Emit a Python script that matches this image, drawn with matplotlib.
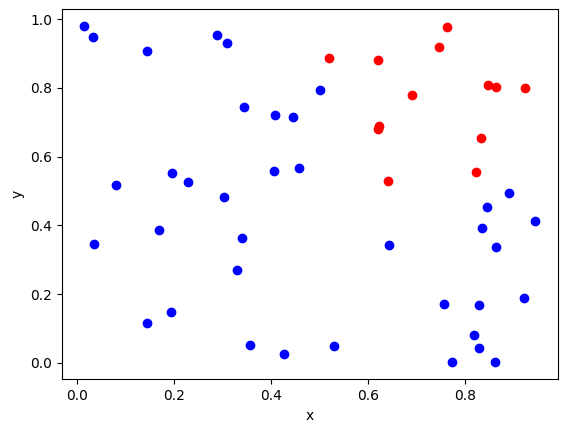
import matplotlib
matplotlib.use("Agg")
import matplotlib.pyplot as plt

# points
blue_x = [0.014, 0.032, 0.144, 0.287, 0.309, 0.344, 0.408, 0.445, 0.406, 0.457,
          0.080, 0.196, 0.229, 0.302, 0.501, 0.890,
          0.169, 0.034, 0.340, 0.330, 0.192, 0.144, 0.356, 0.427,
          0.845, 0.944, 0.834, 0.864, 0.643, 0.756, 0.829, 0.922, 0.530,
          0.818, 0.829, 0.773, 0.862]
blue_y = [0.980, 0.948, 0.907, 0.953, 0.930, 0.744, 0.720, 0.715, 0.557, 0.566,
          0.517, 0.552, 0.525, 0.483, 0.794, 0.493,
          0.386, 0.345, 0.362, 0.269, 0.147, 0.117, 0.051, 0.027,
          0.453, 0.412, 0.391, 0.336, 0.342, 0.170, 0.167, 0.188, 0.049,
          0.080, 0.043, 0.001, 0.001]

red_x = [0.763, 0.746, 0.518, 0.619, 0.689, 0.847, 0.863, 0.924, 0.622, 0.620,
         0.832, 0.821, 0.641]
red_y = [0.977, 0.918, 0.886, 0.881, 0.779, 0.808, 0.802, 0.799, 0.688, 0.681,
         0.653, 0.554, 0.528]

fig = plt.figure(figsize=(5.67, 4.32), dpi=100)
ax = fig.add_subplot(111)
fig.subplots_adjust(left=0.1088, right=0.9836, bottom=0.122, top=0.9785)

ax.scatter(blue_x, blue_y, c='blue')
ax.scatter(red_x, red_y, c='red')
ax.set_xlabel('x')
ax.set_ylabel('y')

fig.savefig('out.png', dpi=100)
